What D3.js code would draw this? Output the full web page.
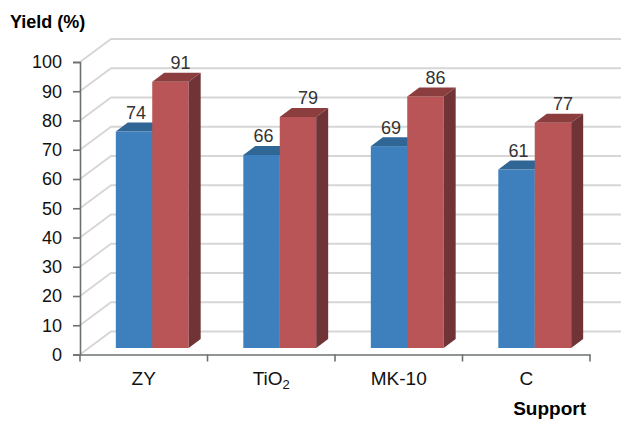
<!DOCTYPE html>
<html>
<head>
<meta charset="utf-8">
<script src="https://cdn.jsdelivr.net/npm/d3@7"></script>
<style>
  html, body { margin: 0; padding: 0; background: #fff; }
  svg { display: block; font-family: "Liberation Sans", Arial, sans-serif; }
</style>
</head>
<body>
<svg id="chart" width="621" height="422"></svg>
<script>
// Yield by support, two series per support
const categories = ["ZY", "TiO2", "MK-10", "C"];
const seriesNames = ["A", "B"];
const seriesA = [74, 66, 69, 61];
const seriesB = [91, 79, 86, 77];
const yTicks = [0, 10, 20, 30, 40, 50, 60, 70, 80, 90, 100];
const seriesColors = [
  { front: "#3E80BE", top: "#2F6696", side: "#295985" },
  { front: "#B95556", top: "#8C3E3F", side: "#703437" }
];

const svg = d3.select("#chart");

// front plane of the 3D plot box
const x0 = d3.scaleBand().domain(categories).range([80, 590]).paddingInner(0).paddingOuter(0);
const x1 = d3.scaleBand().domain(seriesNames).range([0, x0.bandwidth()]).paddingInner(0).paddingOuter(0.75);
const y = d3.scaleLinear().domain([0, 100]).range([354.5, 62]);

// depth of the box and of the columns
const wall = { dx: 31, dy: -23 };
const col = { shiftX: 8.5, shiftY: -6.5, dx: 12, dy: -9 };

// back wall + left wall gridlines
const grid = svg.append("g").attr("fill", "none").attr("stroke", "#D6D6D6").attr("stroke-width", 1.8);
grid.selectAll("polyline").data(yTicks).join("polyline")
  .attr("points", d => {
    const yy = y(d);
    return [[80, yy], [80 + wall.dx, yy + wall.dy], [621, yy + wall.dy]].map(p => p.join(",")).join(" ");
  });

// axes
const axisColor = "#6B7171";
const yAxis = d3.axisLeft(y).tickValues(yTicks).tickSize(7).tickPadding(11);
const gy = svg.append("g").attr("transform", "translate(80,0)").call(yAxis);
gy.select(".domain").attr("stroke", axisColor).attr("stroke-width", 1.6);
gy.selectAll(".tick line").attr("stroke", axisColor).attr("stroke-width", 1.6);
gy.selectAll(".tick text").attr("font-size", 18).attr("fill", "#111").attr("font-family", "'Liberation Sans', Arial, sans-serif");

const xAxis = d3.axisBottom(x0).tickSize(0).tickFormat(() => "");
const gx = svg.append("g").attr("transform", `translate(0,${y(0)})`).call(xAxis);
gx.select(".domain").attr("stroke", axisColor).attr("stroke-width", 1.6);
gx.selectAll(".tick").remove();
// category boundary ticks
const bounds = categories.map(c => x0(c)).concat([x0.range()[1]]);
gx.selectAll("line.bound").data(bounds).join("line").attr("class", "bound")
  .attr("x1", d => d).attr("x2", d => d).attr("y1", 0).attr("y2", 7)
  .attr("stroke", axisColor).attr("stroke-width", 1.6);

// category labels (digits right after a letter are set as subscripts)
const catLabels = svg.append("g").attr("font-size", 19).attr("fill", "#111").attr("text-anchor", "middle");
categories.forEach(c => {
  const t = catLabels.append("text").attr("x", x0(c) + x0.bandwidth() / 2).attr("y", 385);
  const parts = c.split(/(?<=[A-Za-z])(\d+)/).filter(p => p !== "");
  let lowered = false;
  c.split(/(?<=[A-Za-z])(\d+)/).forEach((p, i) => {
    if (!p) return;
    const sub = i % 2 === 1;
    const ts = t.append("tspan").text(p);
    if (sub) { ts.attr("font-size", 13).attr("dy", 4); lowered = true; }
    else if (lowered) { ts.attr("dy", -4); lowered = false; }
  });
});

// 3D columns
const rows = categories.map((c, i) => ({ cat: c, vals: [seriesA[i], seriesB[i]] }));
const bars = [];
rows.forEach(r => r.vals.forEach((v, s) => bars.push({ cat: r.cat, s, v })));

const gb = svg.append("g");
bars.forEach(b => {
  const c = seriesColors[b.s];
  const bx = x0(b.cat) + x1(seriesNames[b.s]) + col.shiftX;
  const w = x1.bandwidth();
  const yt = y(b.v) + col.shiftY;
  const yb = y(0) + col.shiftY;
  const g = gb.append("g");
  g.append("rect").attr("x", bx).attr("y", yt).attr("width", w).attr("height", yb - yt).attr("fill", c.front);
  g.append("polygon").attr("fill", c.top)
    .attr("points", [[bx, yt], [bx + w, yt], [bx + w + col.dx, yt + col.dy], [bx + col.dx, yt + col.dy]].map(p => p.join(",")).join(" "));
  g.append("polygon").attr("fill", c.side)
    .attr("points", [[bx + w, yt], [bx + w + col.dx, yt + col.dy], [bx + w + col.dx, yb + col.dy], [bx + w, yb]].map(p => p.join(",")).join(" "));
  b.bx = bx; b.w = w; b.yt = yt;
});

// value labels
const labelShift = [2, 10];
svg.append("g").attr("font-size", 18).attr("fill", "#333").attr("text-anchor", "middle")
  .selectAll("text").data(bars).join("text")
  .attr("x", d => d.bx + d.w / 2 + labelShift[d.s])
  .attr("y", d => d.yt + col.dy - 3.5)
  .text(d => d.v);

// axis titles
svg.append("text").attr("x", 10).attr("y", 28).attr("font-size", 18).attr("font-weight", "bold").attr("fill", "#000").text("Yield (%)");
svg.append("text").attr("x", 586).attr("y", 415).attr("text-anchor", "end").attr("font-size", 19).attr("font-weight", "bold").attr("fill", "#000").text("Support");
</script>
</body>
</html>
